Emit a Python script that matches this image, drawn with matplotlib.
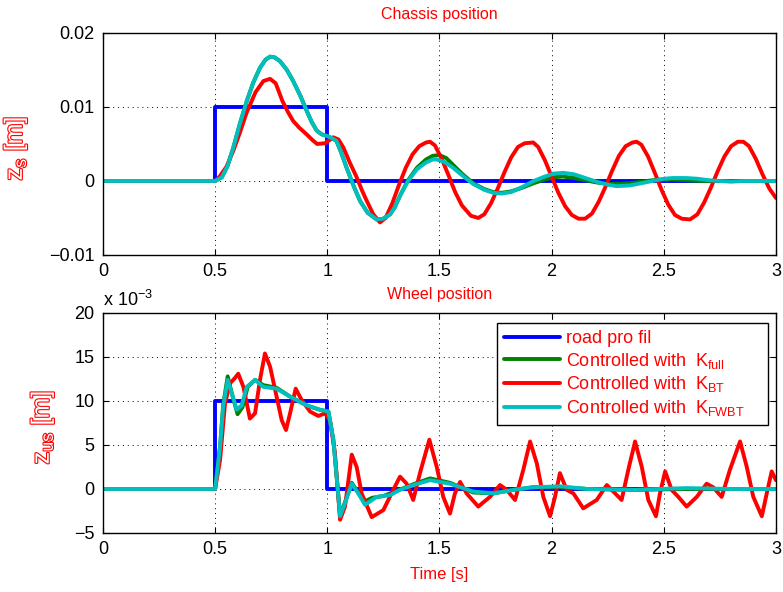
import matplotlib
matplotlib.use('Agg')
import matplotlib.pyplot as plt
import matplotlib.patheffects as pe
import numpy as np

plt.rcParams['font.family'] = ['Liberation Sans', 'DejaVu Sans']
plt.rcParams['mathtext.fontset'] = 'custom'
plt.rcParams['mathtext.rm'] = 'Liberation Sans'

# ---------------- data ----------------
# road profile (step of 10 mm between 0.5 s and 1 s)
t_road = [0, 0.5, 0.5, 1.0, 1.0, 3.0]
z_road = [0, 0, 0.01, 0.01, 0, 0]

# chassis position [m]
t_s_bt = [0, 0.5, 0.52, 0.55, 0.58, 0.61, 0.64, 0.68, 0.715, 0.745, 0.77, 0.80, 0.825, 0.848,
          0.875, 0.908, 0.935, 0.955, 0.99, 1.027, 1.05, 1.072, 1.10, 1.131, 1.155, 1.176, 1.205,
          1.235, 1.26, 1.29, 1.32, 1.35, 1.38, 1.41, 1.44, 1.458, 1.48, 1.51, 1.54, 1.57, 1.60,
          1.64, 1.673, 1.70, 1.73, 1.76, 1.79, 1.82, 1.85, 1.88, 1.918, 1.94, 1.97, 2.00, 2.03,
          2.06, 2.09, 2.12, 2.149, 2.18, 2.21, 2.24, 2.27, 2.30, 2.33, 2.36, 2.379, 2.40, 2.43,
          2.46, 2.49, 2.52, 2.55, 2.58, 2.617, 2.65, 2.68, 2.71, 2.74, 2.77, 2.80, 2.83, 2.855,
          2.88, 2.91, 2.94, 2.97, 3.0]
z_s_bt = [0, 0, 0.0006, 0.0019, 0.0040, 0.0065, 0.0092, 0.0120, 0.0135, 0.0138, 0.0132, 0.0108,
          0.0093, 0.0081, 0.0072, 0.0063, 0.0055, 0.0050, 0.0051, 0.0059, 0.0056, 0.0045, 0.0025,
          0.0005, -0.0013, -0.0027, -0.0045, -0.0056, -0.0050, -0.0030, -0.0005, 0.0018, 0.0036,
          0.0047, 0.0052, 0.0053, 0.0048, 0.0030, 0.0008, -0.0015, -0.0033, -0.0047, -0.0050,
          -0.0045, -0.0030, -0.0010, 0.0012, 0.0032, 0.0046, 0.0051, 0.0052, 0.0046, 0.0028,
          0.0006, -0.0016, -0.0034, -0.0046, -0.0051, -0.0051, -0.0044, -0.0028, -0.0008,
          0.0014, 0.0034, 0.0047, 0.0052, 0.0053, 0.0049, 0.0033, 0.0011, -0.0012, -0.0032,
          -0.0046, -0.0051, -0.0052, -0.0045, -0.0029, -0.0009, 0.0013, 0.0033, 0.0047, 0.0053,
          0.0053, 0.0047, 0.0030, 0.0009, -0.0010, -0.0023]

t_s_cy = [0, 0.5, 0.53, 0.555, 0.581, 0.61, 0.641, 0.67, 0.70, 0.725, 0.745, 0.765, 0.789, 0.82,
          0.848, 0.88, 0.908, 0.93, 0.953, 0.975, 0.997, 1.02, 1.041, 1.06, 1.086, 1.115, 1.146,
          1.18, 1.22, 1.25, 1.28, 1.30, 1.324, 1.36, 1.40, 1.44, 1.47, 1.488, 1.52, 1.56, 1.60,
          1.65, 1.70, 1.74, 1.777, 1.82, 1.87, 1.92, 1.97, 2.01, 2.052, 2.10, 2.15, 2.20, 2.25,
          2.29, 2.35, 2.40, 2.45, 2.50, 2.54, 2.60, 2.65, 2.70, 2.75, 2.80, 2.85, 2.90, 2.95, 3.0]
z_s_cy = [0, 0, 0.0005, 0.0020, 0.0045, 0.0077, 0.0108, 0.0133, 0.0153, 0.0164, 0.0168, 0.0167,
          0.0162, 0.0150, 0.0135, 0.0115, 0.0095, 0.0080, 0.0068, 0.0063, 0.0061, 0.0058, 0.0054,
          0.0040, 0.0018, -0.0005, -0.0027, -0.0043, -0.0052, -0.0051, -0.0045, -0.0036, -0.0020,
          0.0000, 0.0016, 0.0025, 0.0029, 0.0029, 0.0026, 0.0018, 0.0008, -0.0004, -0.0012,
          -0.0016, -0.0017, -0.0015, -0.0008, 0.0000, 0.0006, 0.0010, 0.0011, 0.0009, 0.0004,
          -0.0001, -0.0005, -0.0007, -0.0006, -0.0003, 0.0000, 0.0003, 0.0004, 0.0004, 0.0003,
          0.0001, 0.0000, -0.0001, 0.0000, 0.0000, 0.0000, 0.0000]

t_s_full = [0, 0.5, 0.53, 0.555, 0.581, 0.61, 0.641, 0.67, 0.70, 0.725, 0.745, 0.765, 0.789, 0.82,
            0.848, 0.88, 0.908, 0.93, 0.953, 0.975, 0.997, 1.02, 1.041, 1.06, 1.086, 1.115, 1.146,
            1.18, 1.22, 1.25, 1.28, 1.30, 1.324, 1.36, 1.40, 1.44, 1.47, 1.50, 1.53, 1.56, 1.60,
            1.65, 1.70, 1.74, 1.777, 1.82, 1.87, 1.92, 1.97, 2.01, 2.05, 2.10, 2.15, 2.20, 2.25,
            2.30, 2.35, 2.40, 2.45, 2.50, 2.55, 2.60, 2.65, 2.70, 2.75, 2.80, 2.85, 2.90, 2.95, 3.0]
z_s_full = [0, 0, 0.0005, 0.0020, 0.0045, 0.0077, 0.0108, 0.0133, 0.0153, 0.0164, 0.0168, 0.0167,
            0.0162, 0.0150, 0.0135, 0.0115, 0.0095, 0.0080, 0.0068, 0.0063, 0.0061, 0.0058, 0.0054,
            0.0040, 0.0018, -0.0005, -0.0027, -0.0043, -0.0052, -0.0051, -0.0045, -0.0036, -0.0020,
            0.0001, 0.0018, 0.0029, 0.0034, 0.0035, 0.0031, 0.0022, 0.0010, -0.0003, -0.0011,
            -0.0015, -0.0016, -0.0014, -0.0009, -0.0003, 0.0002, 0.0005, 0.0006, 0.0004, 0.0001,
            -0.0002, -0.0004, -0.0004, -0.0003, -0.0001, 0.0001, 0.0002, 0.0002, 0.0001, 0.0000,
            0.0000, 0.0000, 0.0000, 0.0000, 0.0000, 0.0000, 0.0000]

# wheel position [x 1e-3 m]
t_u_bt = [0, 0.5, 0.522, 0.544, 0.566, 0.588, 0.603, 0.626, 0.655, 0.678, 0.70, 0.722, 0.745,
          0.774, 0.797, 0.816, 0.834, 0.859, 0.886, 0.923, 0.96, 0.99, 1.012, 1.034, 1.057,
          1.079, 1.109, 1.131, 1.153, 1.198, 1.25, 1.294, 1.324, 1.354, 1.383, 1.413, 1.455,
          1.488, 1.517, 1.547, 1.569, 1.592, 1.621, 1.673, 1.725, 1.77, 1.80, 1.837, 1.874,
          1.904, 1.934, 1.963, 1.993, 2.015, 2.037, 2.067, 2.097, 2.141, 2.201, 2.246, 2.283,
          2.312, 2.342, 2.372, 2.402, 2.431, 2.465, 2.483, 2.506, 2.535, 2.565, 2.602, 2.647,
          2.691, 2.72, 2.758, 2.795, 2.84, 2.87, 2.899, 2.937, 2.959, 2.981, 3.0]
z_u_bt = [0, 0, 3.3, 9.7, 12.0, 12.6, 13.1, 11.6, 8.0, 8.6, 12.4, 15.4, 13.9, 10.5, 7.8, 6.7,
          8.6, 11.4, 10.1, 8.8, 8.3, 8.6, 7.8, 4.1, -3.5, -2.0, 3.9, 2.5, -0.5, -3.2, -2.4, -0.1,
          1.4, 0.6, -1.25, 1.8, 5.6, 2.5, -0.9, -2.8, -0.5, 0.8, -0.5, -2.0, -0.9, 0.45, -0.1,
          -1.25, 2.2, 5.4, 2.9, -0.9, -3.1, -0.9, 1.8, -0.1, -0.5, -2.2, -1.25, 0.45, -0.5,
          -1.25, 2.2, 5.4, 2.5, -1.25, -3.1, -0.5, 2.0, -0.1, -0.9, -2.0, -0.9, 0.6, 0.2,
          -0.9, 2.2, 5.4, 2.5, -0.9, -3.1, -0.5, 2.0, 1.0]

t_u_cy = [0, 0.5, 0.522, 0.536, 0.556, 0.574, 0.596, 0.618, 0.641, 0.678, 0.715, 0.774, 0.834,
          0.908, 0.967, 1.005, 1.027, 1.057, 1.079, 1.109, 1.138, 1.168, 1.22, 1.28, 1.324,
          1.39, 1.458, 1.547, 1.651, 1.74, 1.83, 1.918, 2.04, 2.16, 2.37, 2.6, 2.8, 3.0]
z_u_cy = [0, 0, 4.8, 9.4, 12.4, 10.9, 9.0, 9.5, 11.6, 12.4, 11.6, 11.4, 10.5, 9.5, 9.0, 8.8,
          5.6, -3.1, -1.6, 0.6, -0.5, -1.8, -0.9, -0.7, -0.1, 0.5, 1.0, 0.6, -0.3, -0.5, -0.1,
          0.2, 0.3, 0.0, -0.1, 0.1, 0.0, 0.0]

t_u_full = [0, 0.5, 0.522, 0.536, 0.556, 0.574, 0.600, 0.622, 0.645, 0.678, 0.715, 0.774, 0.834,
            0.908, 0.967, 1.005, 1.027, 1.057, 1.079, 1.109, 1.138, 1.168, 1.20, 1.25, 1.30,
            1.39, 1.458, 1.547, 1.651, 1.74, 1.83, 1.918, 2.04, 2.16, 2.37, 2.6, 2.8, 3.0]
z_u_full = [0, 0, 4.8, 9.6, 12.8, 10.9, 8.5, 9.3, 11.6, 12.4, 11.8, 11.5, 10.5, 9.5, 9.0, 8.8,
            5.6, -3.0, -1.5, 0.7, -0.4, -1.4, -1.0, -0.8, -0.3, 0.6, 1.2, 0.7, -0.4, -0.5,
            -0.1, 0.2, 0.2, 0.0, -0.1, 0.0, 0.0, 0.0]

labels = ['road pro fil', r'Controlled with  K$_{\mathrm{full}}$',
          r'Controlled with  K$_{\mathrm{BT}}$', r'Controlled with  K$_{\mathrm{FWBT}}$']
c_road, c_full, c_bt, c_fwbt = 'blue', (0, 0.5, 0), 'red', (0, 0.75, 0.75)
lw = 2.8

fig = plt.figure(figsize=(7.83, 5.92), dpi=100)
ax1 = fig.add_axes([0.1315, 0.5693, 0.8595, 0.375])
ax2 = fig.add_axes([0.1315, 0.0997, 0.8595, 0.3716])

kw = dict(lw=lw, solid_joinstyle='round', solid_capstyle='round')
ax1.plot(t_road, z_road, color=c_road, **kw)
ax1.plot(t_s_full, z_s_full, color=c_full, **kw)
ax1.plot(t_s_bt, z_s_bt, color=c_bt, **kw)
ax1.plot(t_s_cy, z_s_cy, color=c_fwbt, **kw)

h = []
h += ax2.plot(t_road, np.array(z_road) * 1000, color=c_road, **kw)
h += ax2.plot(t_u_full, z_u_full, color=c_full, **kw)
h += ax2.plot(t_u_bt, z_u_bt, color=c_bt, **kw)
h += ax2.plot(t_u_cy, z_u_cy, color=c_fwbt, **kw)

hollow = [pe.withStroke(linewidth=1.6, foreground='red')]

ax1.set_ylim(-0.01, 0.02)
ax1.set_yticks([-0.01, 0, 0.01, 0.02])
ax1.set_yticklabels(['\u22120.01', '0', '0.01', '0.02'])
ax2.set_ylim(-5, 20)
ax2.set_yticks([-5, 0, 5, 10, 15, 20])
ax2.set_yticklabels(['\u22125', '0', '5', '10', '15', '20'])

for ax in (ax1, ax2):
    ax.set_xlim(0, 3)
    ax.set_xticks([0, 0.5, 1, 1.5, 2, 2.5, 3])
    ax.set_xticklabels(['0', '0.5', '1', '1.5', '2', '2.5', '3'])
    ax.grid(True, color='black', linestyle=(0, (1, 4)), linewidth=0.7)
    ax.tick_params(direction='in', length=4, labelsize=13, top=True, right=True, pad=6)
    for s in ax.spines.values():
        s.set_linewidth(1.0)

ax1.set_title('Chassis position', color='red', fontsize=11.5, pad=10)
ax2.set_title('Wheel position', color='red', fontsize=11.5, pad=10)

ax1.set_ylabel(r'z$_{\mathrm{s}}$ [m]', color='white', fontsize=18, path_effects=hollow)
ax1.yaxis.set_label_coords(-0.11, 0.48)
ax2.set_ylabel(r'z$_{\mathrm{us}}$ [m]', color='white', fontsize=18, path_effects=hollow)
ax2.yaxis.set_label_coords(-0.07, 0.48)
ax2.set_xlabel('Time [s]', color='red', fontsize=12, labelpad=6)

ax2.text(0.0, 1.015, r'x 10$^{-3}$', transform=ax2.transAxes, fontsize=13, va='bottom', ha='left')

leg = ax2.legend(h, [l + '    ' for l in labels], loc='upper right',
                 bbox_to_anchor=(0.988, 0.955), fontsize=13, borderaxespad=0,
                 handlelength=3.1, handletextpad=0.35, fancybox=False, edgecolor='black',
                 framealpha=1, borderpad=0.4, labelspacing=0.2)
leg.get_frame().set_linewidth(1.0)
for t in leg.get_texts():
    t.set_color('red')

fig.savefig('out.png', dpi=100)
